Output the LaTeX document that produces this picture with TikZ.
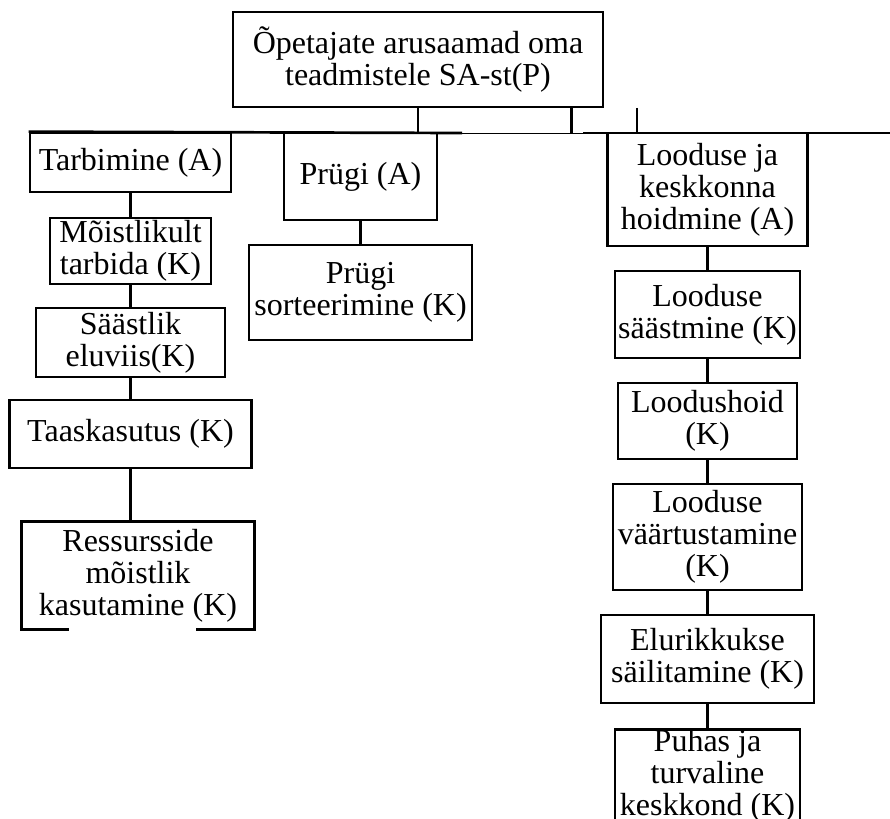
\documentclass[tikz,border=0pt]{standalone}
\usepackage{fontspec}
\setmainfont{Liberation Serif}
\usepackage{tikz}
\usetikzlibrary{positioning}
\tikzstyle{box} = [draw,line width=2.7pt,align=center,inner sep=0pt,font=\fontsize{32}{32}\selectfont]
\tikzstyle{line} = [line width=2.7pt]

\begin{document}
\begin{tikzpicture}[x=1pt,y=-1pt]
	\useasboundingbox (0,0) rectangle (890,818);
	
	%Nodes
	\node [box,minimum width=370pt,minimum height=95pt] (top) at (418,59.5) {Õpetajate arusaamad oma\\teadmistele SA-st(P)};
	\node [box,minimum width=201pt,minimum height=59pt] (tarb) at (130.5,162.5) {Tarbimine (A)};
	\node [box,minimum width=161pt,minimum height=66pt] (moist) at (130.5,251) {Mõistlikult\\tarbida (K)};
	\node [box,minimum width=189pt,minimum height=69pt] (saast) at (130.5,342.5) {Säästlik\\eluviis(K)};
	\node [box,minimum width=242pt,minimum height=68pt] (taas) at (130.5,434) {Taaskasutus (K)};
	\node [box,draw=none,minimum width=230pt,minimum height=105pt] (ress) at (138,575.5) {Ressursside\\mõistlik\\kasutamine (K)};
	\node [box,minimum width=153pt,minimum height=87pt] (prygi) at (360.5,176.5) {Prügi (A)};
	\node [box,minimum width=223pt,minimum height=95pt] (sort) at (360.5,292.5) {Prügi\\sorteerimine (K)};
	\node [box,minimum width=200pt,minimum height=113pt] (lood) at (707.5,189.5) {Looduse ja\\keskkonna\\hoidmine (A)};
	\node [box,minimum width=185pt,minimum height=87pt] (saastm) at (707.5,314.5) {Looduse\\säästmine (K)};
	\node [box,minimum width=179pt,minimum height=76pt] (hoid) at (707.5,421) {Loodushoid\\(K)};
	\node [box,minimum width=189pt,minimum height=106pt] (vaart) at (707.5,537) {Looduse\\väärtustamine\\(K)};
	\node [box,minimum width=213pt,minimum height=88pt] (elur) at (707.5,659) {Elurikkukse\\säilitamine (K)};
	\node [box,minimum width=185pt,anchor=north] (puhas) at (707.5,728) {Puhas ja\\turvaline\\keskkond (K)};
	
	\coordinate (gapL) at (462,133);
	\coordinate (gapR) at (583,133);
	\coordinate (busR) at (890,133);
	\coordinate (tick) at (637,108);
	
	%Lines
	\draw[line] (tarb.north west) -- (gapL);
	\draw[line width=0.6pt] (gapL) -- (gapR);
	\draw[line] (gapR) -- (busR);
	\draw[line] (top.south) -- (top.south |- busR);
	\draw[line] ([xshift=-33pt]top.south east) -- ([xshift=-33pt]top.south east |- busR);
	\draw[line] (tick) -- (tick |- busR);
	
	\draw[line] (tarb.south) -- (moist.north);
	\draw[line] (moist.south) -- (saast.north);
	\draw[line] (saast.south) -- (taas.north);
	\draw[line] (taas.south) -- (taas.south |- ress.north);
	\draw[line] ([xshift=47pt]ress.south west) -| (ress.north west) -| (ress.south east) -- ++(-58,0);
	
	\draw[line] (prygi.south) -- (sort.north);
	
	\draw[line] (lood.south) -- (saastm.north);
	\draw[line] (saastm.south) -- (hoid.north);
	\draw[line] (hoid.south) -- (vaart.north);
	\draw[line] (vaart.south) -- (elur.north);
	\draw[line] (elur.south) -- (puhas.north);
	
\end{tikzpicture}
\end{document}
